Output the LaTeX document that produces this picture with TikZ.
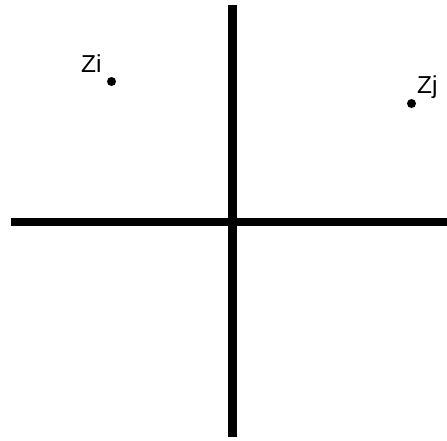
\documentclass[tikz,border=0pt]{standalone}
\usepackage{fontspec}
\setmainfont{Liberation Sans}
\begin{document}
\begin{tikzpicture}[x=1pt,y=-1pt,
  axis/.style={line width=9pt},
  pt/.style={circle,fill=black,inner sep=0pt,minimum size=9pt},
  lbl/.style={anchor=base west,inner sep=0pt,font=\fontsize{24.5}{28}\selectfont}]
\useasboundingbox (0,0) rectangle (447,440);
\coordinate (vt) at (232,5);
\coordinate (vb) at (232,437);
\coordinate (hl) at (11,222);
\coordinate (hr) at (447,222);
\draw[axis] (vt) -- (vb);
\draw[line width=8.5pt] (hl) -- (hr);
\node[pt] (zi) at (111.5,81.5) {};
\node[pt] (zj) at (411.5,103.5) {};
\node[lbl] (li) at (81,72) {Zi};
\node[lbl] (lj) at (417,93) {Zj};
\end{tikzpicture}
\end{document}
